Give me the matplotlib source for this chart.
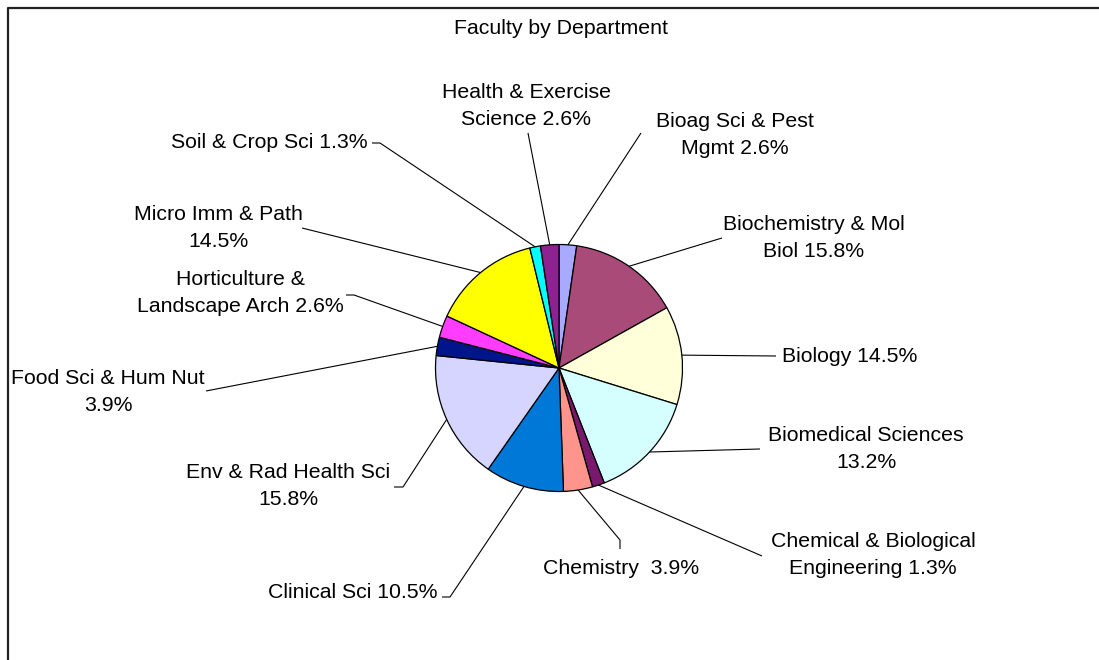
import matplotlib
matplotlib.use('Agg')
import matplotlib.pyplot as plt
import numpy as np

plt.rcParams['font.family'] = ['Liberation Sans', 'DejaVu Sans']

W, H = 1099, 660

# slice sizes (percent) as drawn in the picture, clockwise from 12 o'clock
SHARES = [2.3, 14.6, 12.9, 14.25, 1.6, 3.8, 10.3, 16.9, 2.4, 2.9, 14.3, 1.4, 2.4]

# label texts as printed on the chart
LABELS = [
    "Bioag Sci & Pest\nMgmt 2.6%",
    "Biochemistry & Mol\nBiol 15.8%",
    "Biology 14.5%",
    "Biomedical Sciences\n13.2%",
    "Chemical & Biological\nEngineering 1.3%",
    "Chemistry  3.9%",
    "Clinical Sci 10.5%",
    "Env & Rad Health Sci\n15.8%",
    "Food Sci & Hum Nut\n3.9%",
    "Horticulture &\nLandscape Arch 2.6%",
    "Micro Imm & Path\n14.5%",
    "Soil & Crop Sci 1.3%",
    "Health & Exercise\nScience 2.6%",
]

COLORS = ['#A8AAFF', '#A84B78', '#FFFFD9', '#D5FFFF', '#78196E', '#FF948C',
          '#0078D7', '#D5D5FF', '#00148C', '#FF3CFF', '#FFFF00', '#00FFFF',
          '#8C2391']

# label layout in pixel coords: text position, alignment, leader knee, leader end
TEXT_POS = [(735, 135), (814, 238), (782, 356), (866, 449), (873, 555),
            (621, 568), (438, 593), (288, 486), (108, 392), (240, 293),
            (218, 228), (368, 143), (526, 106)]
TEXT_HA = ['center', 'center', 'left', 'center', 'center', 'center', 'right',
           'center', 'center', 'center', 'center', 'right', 'center']
KNEE = [(641, 133), (722, 238), (776, 356), (760, 449), (762, 556),
        (620, 540), (450, 597), (403, 487), (206, 391), (354, 295),
        (302, 228), (380, 143), (528, 133)]
LEAD_END = [(641, 133), (722, 238), (776, 356), (760, 449), (762, 556),
            (620, 549), (442, 597), (394, 487), (206, 391), (346, 295),
            (302, 228), (372, 143), (528, 133)]

CENTER = (559, 368)
RADIUS = 123.5


def fy(y):
    return H - y


fig = plt.figure(figsize=(W / 100, H / 100), dpi=100)
ax = fig.add_axes([0, 0, 1, 1])

wedges, _ = ax.pie(SHARES, colors=COLORS, startangle=90, counterclock=False,
                   center=(CENTER[0], fy(CENTER[1])), radius=RADIUS,
                   wedgeprops=dict(edgecolor='black', linewidth=0.9),
                   frame=True)

cx, cy = CENTER[0], fy(CENTER[1])
for i, w in enumerate(wedges):
    mid = np.deg2rad((w.theta1 + w.theta2) / 2)
    ex = cx + RADIUS * np.cos(mid)
    ey = cy + RADIUS * np.sin(mid)
    kx, ky = KNEE[i]
    lx, ly = LEAD_END[i]
    ax.plot([ex, kx, lx], [ey, fy(ky), fy(ly)], color='black', lw=0.8,
            solid_capstyle='butt', zorder=1)
    tx, ty = TEXT_POS[i]
    ax.text(tx, fy(ty), LABELS[i], ha=TEXT_HA[i], va='center', fontsize=15.3,
            linespacing=1.52, multialignment='center')

ax.text(561, fy(28), "Faculty by Department", ha='center', va='center',
        fontsize=15.3)

# chart frame (left and top edges visible)
ax.plot([7.5, 7.5, W + 5], [-5, fy(8), fy(8)], color='#222222', lw=1.6,
        solid_capstyle='butt', clip_on=False)

ax.set_xlim(0, W)
ax.set_ylim(0, H)
ax.set_aspect('equal')
ax.axis('off')

plt.savefig('out.png', dpi=100)
